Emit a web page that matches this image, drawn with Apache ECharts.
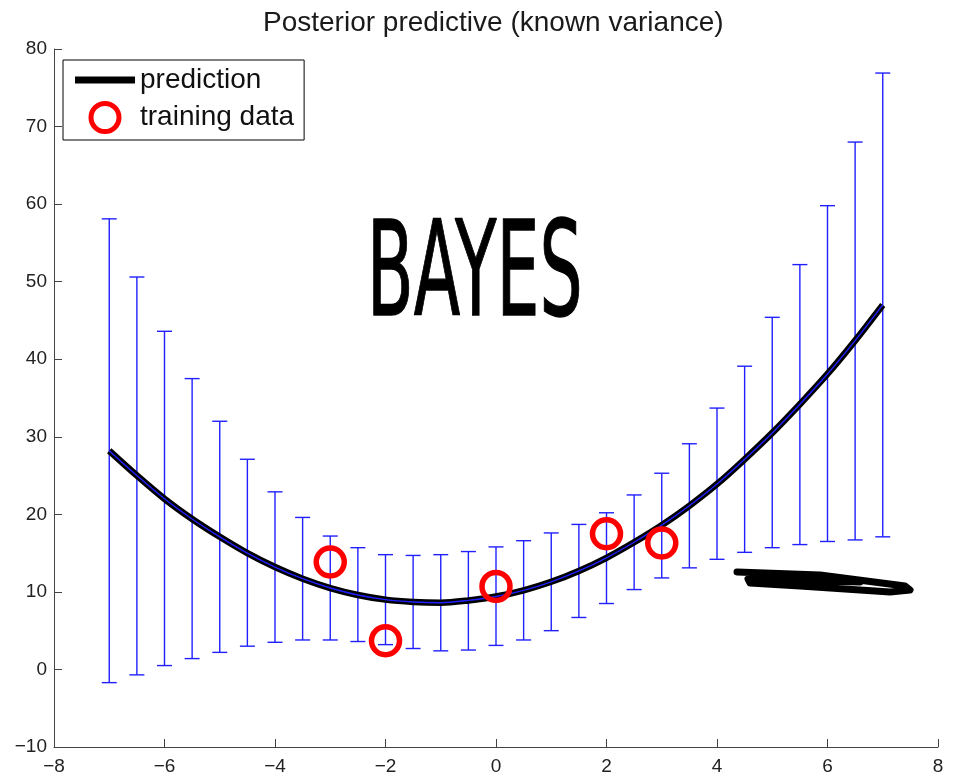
<!DOCTYPE html>
<html><head><meta charset="utf-8">
<script src="https://cdn.jsdelivr.net/npm/echarts@6/dist/echarts.min.js"></script>
<style>html,body{margin:0;padding:0;background:#fff}#c{width:956px;height:776px}</style>
</head><body><div id="c"></div>
<script>
// x positions of the predictive error bars
const xGrid = [-7,-6.5,-6,-5.5,-5,-4.5,-4,-3.5,-3,-2.5,-2,-1.5,-1,-0.5,0,0.5,1,1.5,2,2.5,3,3.5,4,4.5,5,5.5,6,6.5,7];
// posterior predictive mean
const predMean = [28.2,25.0,22.0,19.4,17.1,15.0,13.2,11.7,10.5,9.6,9.0,8.7,8.6,8.9,9.4,10.2,11.3,12.7,14.4,16.4,18.6,21.1,23.9,27.1,30.5,34.2,38.1,42.4,47.0];
// lower and upper ends of the error bars
const barLow  = [-1.7,-0.7,0.5,1.4,2.2,3.0,3.5,3.8,3.8,3.6,3.2,2.7,2.4,2.5,3.1,3.8,5.0,6.7,8.5,10.3,11.8,13.1,14.2,15.1,15.7,16.1,16.5,16.7,17.1];
const barHigh = [58.1,50.6,43.6,37.5,32.0,27.1,22.9,19.6,17.2,15.7,14.8,14.7,14.8,15.2,15.8,16.6,17.6,18.7,20.2,22.5,25.3,29.1,33.7,39.1,45.4,52.2,59.8,68.0,76.9];
// training data
const trainX = [-3,-2,0,2,3];
const trainY = [13.85,3.7,10.7,17.5,16.3];

const meanData = xGrid.map((x,i)=>[x,predMean[i]]);
const barData = xGrid.map((x,i)=>[x,barLow[i],barHigh[i]]);
const trainData = trainX.map((x,i)=>[x,trainY[i]]);

const FONT = '"Liberation Sans", Arial, Helvetica, sans-serif';
const minusFmt = v => String(v).replace('-', '\u2212');
const BLUE = '#2020ff';

const chart = echarts.init(document.getElementById('c'), null, {renderer:'canvas'});
chart.setOption({
  animation:false,
  backgroundColor:'#fff',
  title:{text:'Posterior predictive (known variance)', left:263, top:9, padding:0,
    textStyle:{fontFamily:FONT, fontSize:28, fontWeight:'normal', color:'#1a1a1a'}},
  legend:{
    orient:'vertical', left:63, top:60, padding:[6,10,6,12],
    backgroundColor:'#fff', borderColor:'#000', borderWidth:1, borderRadius:0,
    itemWidth:60, itemHeight:28, itemGap:7, selectedMode:false,
    textStyle:{fontFamily:FONT, fontSize:28, color:'#111', lineHeight:28, padding:[0,0,0,0]},
    data:[
      {name:'prediction', icon:'path://M0,0 L60,0 L60,7 L0,7 Z', itemStyle:{color:'#000', borderWidth:0, opacity:1}},
      {name:'training data', icon:'circle', itemStyle:{color:'#fff', borderColor:'#ff0000', borderWidth:5, opacity:1}}
    ]
  },
  grid:{left:54, right:18, top:49, bottom:29, containLabel:false},
  xAxis:{type:'value', min:-8, max:8, interval:2,
    axisLine:{onZero:false, lineStyle:{color:'#444', width:1}},
    axisTick:{inside:true, length:8, lineStyle:{color:'#444'}},
    axisLabel:{fontFamily:FONT, fontSize:19, color:'#222', margin:10, formatter:minusFmt},
    splitLine:{show:false}},
  yAxis:{type:'value', min:-10, max:80, interval:10,
    axisLine:{show:true, onZero:false, lineStyle:{color:'#444', width:1}},
    axisTick:{show:true, inside:true, length:8, lineStyle:{color:'#444'}},
    axisLabel:{fontFamily:FONT, fontSize:19, color:'#222', margin:7, padding:[4,0,0,0], formatter:minusFmt},
    splitLine:{show:false}},
  series:[
    {type:'custom', name:'bars', z:2, data:barData, encode:{x:0, y:[1,2]},
      renderItem:function(params, api){
        const x = api.value(0), lo = api.value(1), hi = api.value(2);
        const p1 = api.coord([x, lo]), p2 = api.coord([x, hi]);
        const hw = 7.5;
        const st = {stroke:BLUE, lineWidth:1.4};
        return {type:'group', children:[
          {type:'line', shape:{x1:p1[0],y1:p1[1],x2:p2[0],y2:p2[1]}, style:st},
          {type:'line', shape:{x1:p1[0]-hw,y1:p1[1],x2:p1[0]+hw,y2:p1[1]}, style:st},
          {type:'line', shape:{x1:p2[0]-hw,y1:p2[1],x2:p2[0]+hw,y2:p2[1]}, style:st}
        ]};
      }},
    {type:'line', name:'prediction', z:3, data:meanData, smooth:0.3, symbol:'none', showSymbol:false,
      lineStyle:{color:'#000', width:6.5}, itemStyle:{color:'#000'}},
    {type:'line', name:'mean', z:4, data:meanData, smooth:0.3, symbol:'none', showSymbol:false,
      lineStyle:{color:BLUE, width:1.4}, itemStyle:{color:BLUE}},
    {type:'scatter', name:'training data', z:5, data:trainData, symbol:'circle', symbolSize:28,
      itemStyle:{color:'rgba(255,255,255,0)', borderColor:'#ff0000', borderWidth:5.5, opacity:1}}
  ],
  graphic:[
    {type:'text', x:367, y:281, scaleX:0.68, scaleY:1.32, z:10,
      style:{text:'BAYES', font:'normal 100px "DejaVu Sans"', fill:'#000', stroke:'#000', lineWidth:1,
        textAlign:'left', textVerticalAlign:'middle'}},
    {type:'polyline', z:10,
      shape:{points:[[737,572],[820,575],[905,586],[910,590],[890,592],[800,586],[750,583],[748,579],[860,582]]},
      style:{stroke:'#000', lineWidth:7, lineCap:'round', lineJoin:'round', fill:null}}
  ]
});
</script></body></html>
